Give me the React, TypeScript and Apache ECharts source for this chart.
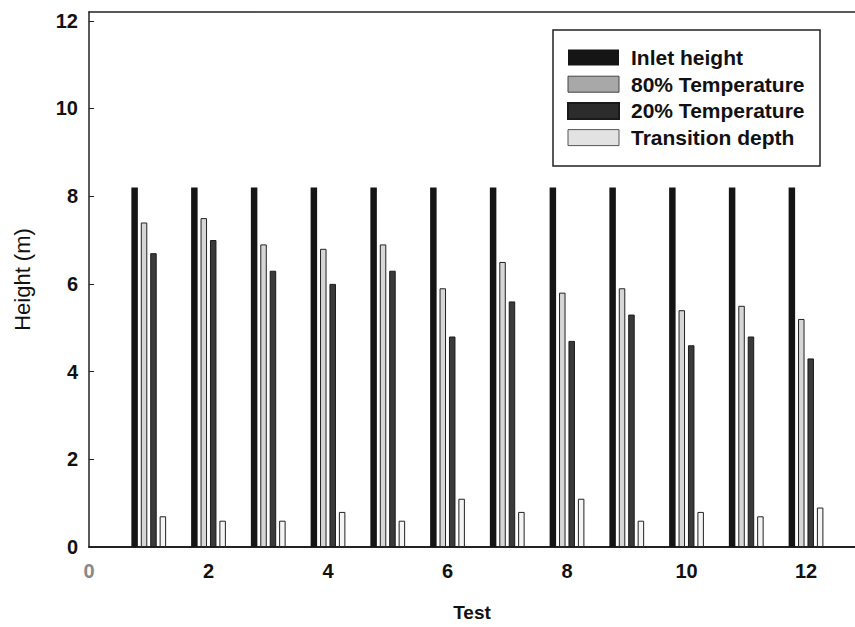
import React, { useEffect, useRef } from "react";
import * as echarts from "echarts";

const tests = [1, 2, 3, 4, 5, 6, 7, 8, 9, 10, 11, 12];
const inletHeight = [8.2, 8.2, 8.2, 8.2, 8.2, 8.2, 8.2, 8.2, 8.2, 8.2, 8.2, 8.2];
const temp80 = [7.4, 7.5, 6.9, 6.8, 6.9, 5.9, 6.5, 5.8, 5.9, 5.4, 5.5, 5.2];
const temp20 = [6.7, 7.0, 6.3, 6.0, 6.3, 4.8, 5.6, 4.7, 5.3, 4.6, 4.8, 4.3];
const transitionDepth = [0.7, 0.6, 0.6, 0.8, 0.6, 1.1, 0.8, 1.1, 0.6, 0.8, 0.7, 0.9];
const seriesNames = ["Inlet height", "80% Temperature", "20% Temperature", "Transition depth"];

const FONT = "'Liberation Sans', Arial, sans-serif";

export default function App() {
  const ref = useRef<HTMLDivElement>(null);
  useEffect(() => {
    if (!ref.current) return;
    const chart = echarts.init(ref.current, null, { renderer: "svg" });
    const pairs = (arr: number[]) => tests.map((t, i) => [t, arr[i]]);
    const styles = [
      { color: "#151515", borderColor: "#111", borderWidth: 0 },
      { color: "#d6d6d6", borderColor: "#222", borderWidth: 1 },
      { color: "#3a3a3a", borderColor: "#1a1a1a", borderWidth: 1 },
      { color: "#f4f4f4", borderColor: "#222", borderWidth: 1 },
    ];
    const legendStyles = [
      { color: "#151515" },
      { color: "#a8a8a8", borderColor: "#444", borderWidth: 1 },
      { color: "#2c2c2c" },
      { color: "#e2e2e2", borderColor: "#555", borderWidth: 1 },
    ];
    const datasets = [inletHeight, temp80, temp20, transitionDepth];
    const XMAX = 12.82;
    chart.setOption({
      animation: false,
      backgroundColor: "#ffffff",
      grid: {
        left: 89,
        right: 0,
        top: 12,
        bottom: 78,
        show: false,
      },
      graphic: [
        {
          type: "rect",
          shape: { x: 553, y: 30, width: 267, height: 136 },
          style: { fill: "none", stroke: "#222", lineWidth: 1.5 },
          z: 10,
        },
      ],
      legend: {
        orient: "vertical",
        left: 567,
        top: 47,
        padding: 0,
        itemWidth: 51,
        itemHeight: 16,
        itemGap: 5.7,
        icon: "rect",
        textStyle: {
          fontFamily: FONT,
          fontSize: 21,
          fontWeight: "bold",
          color: "#111",
          padding: [0, 0, 0, 7],
        },
        data: seriesNames.map((n, i) => ({ name: n, itemStyle: legendStyles[i] })),
      },
      xAxis: [
        {
          type: "value",
          min: 0,
          max: XMAX,
          interval: 2,
          name: "Test",
          nameLocation: "middle",
          nameGap: 56,
          nameTextStyle: { fontFamily: FONT, fontSize: 19, fontWeight: "bold", color: "#111" },
          axisLine: { show: true, lineStyle: { color: "#222", width: 2 } },
          axisTick: { show: false },
          splitLine: { show: false },
          axisLabel: {
            margin: 14,
            fontFamily: FONT,
            fontSize: 20,
            fontWeight: "bold",
            color: "#111",
            showMaxLabel: false,
            formatter: (v: number) => (v === 0 ? "{g|0}" : String(v)),
            rich: {
              g: { fontFamily: FONT, fontSize: 20, fontWeight: "bold", color: "#888" },
            },
          },
        },
        {
          type: "value",
          position: "top",
          min: 0,
          max: XMAX,
          interval: 2,
          axisLine: { show: true, onZero: false, lineStyle: { color: "#222", width: 1.5 } },
          axisTick: { show: false },
          axisLabel: { show: false },
          splitLine: { show: false },
        },
      ],
      yAxis: {
        type: "value",
        min: 0,
        max: 12.2,
        interval: 2,
        name: "Height (m)",
        nameLocation: "middle",
        nameGap: 56,
        nameRotate: 90,
        nameTextStyle: { fontFamily: FONT, fontSize: 22, color: "#111" },
        axisLine: { show: true, lineStyle: { color: "#222", width: 1.5 } },
        axisTick: { show: true, inside: true, length: 5, lineStyle: { color: "#222" } },
        splitLine: { show: false },
        axisLabel: {
          margin: 11,
          fontFamily: FONT,
          fontSize: 20,
          fontWeight: "bold",
          color: "#111",
          showMaxLabel: false,
        },
      },
      series: datasets.map((arr, i) => ({
        name: seriesNames[i],
        type: "bar",
        xAxisIndex: 0,
        data: pairs(arr),
        barWidth: 6.5,
        barGap: "45%",
        itemStyle: styles[i],
      })),
    });
    return () => chart.dispose();
  }, []);
  return (
    <div
      ref={ref}
      style={{ position: "fixed", left: 0, top: 0, width: 855, height: 627, background: "#fff" }}
    />
  );
}
